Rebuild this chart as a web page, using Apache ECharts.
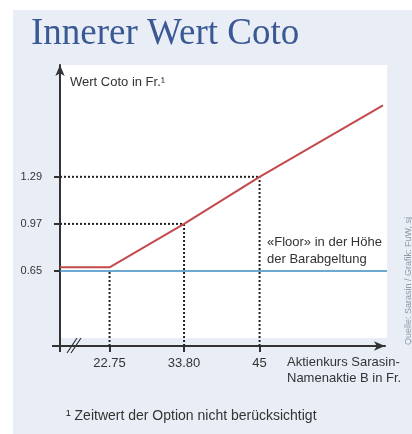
<!DOCTYPE html>
<html>
<head>
<meta charset="utf-8">
<script src="https://cdn.jsdelivr.net/npm/echarts@6/dist/echarts.min.js"></script>
<style>
  html, body { margin: 0; padding: 0; background: #fff; }
  #chart { width: 412px; height: 434px; }
</style>
</head>
<body>
<div id="chart"></div>
<script>
// Werte aus der Grafik
const xTicks = [22.75, 33.8, 45];
const xTickText = ['22.75', '33.80', '45'];
const yTicks = [0.65, 0.97, 1.29];
const innerValue = [[15.4, 0.675], [22.75, 0.675], [33.8, 0.97], [45, 1.29], [63.3, 1.775]];
const floorValue = [[15.4, 0.65], [63.9, 0.65]];

const xMin = 15.4, xMax = 63.6;
const yMin = 0.14, yMax = 2.05;

const font = 'Liberation Sans, Arial, sans-serif';
const dotted = { color: '#222', width: 2, type: [2, 2] };

// gepunktete Hilfslinien zu den markierten Punkten
const guides = [];
xTicks.forEach((x, i) => {
  guides.push([[x, yMin], [x, yTicks[i]]]);
  if (i > 0) guides.push([[xMin, yTicks[i]], [x, yTicks[i]]]);
});

const dom = document.getElementById('chart');
const chart = echarts.init(dom);

const option = {
  backgroundColor: '#fff',
  animation: false,
  title: {
    text: 'Innerer Wert Coto',
    left: 26,
    top: 11,
    textStyle: { fontFamily: 'Liberation Serif, serif', fontSize: 37, fontWeight: 'normal', color: '#3a5894' }
  },
  grid: { left: 60, right: 27, top: 65, bottom: 88 },
  xAxis: {
    type: 'value',
    min: xMin,
    max: xMax,
    splitLine: { show: false },
    axisLine: { onZero: false, symbol: ['none', 'arrow'], symbolSize: [7, 11], lineStyle: { color: '#333', width: 2 } },
    axisTick: { show: true, customValues: xTicks, length: 6, lineStyle: { color: '#333', width: 2 } },
    axisLabel: {
      customValues: xTicks,
      margin: 11,
      color: '#333',
      fontSize: 13,
      fontFamily: font,
      formatter: v => xTickText[xTicks.indexOf(v)]
    }
  },
  yAxis: {
    type: 'value',
    min: yMin,
    max: yMax,
    splitLine: { show: false },
    axisLine: { onZero: false, symbol: ['none', 'arrow'], symbolSize: [7, 11], lineStyle: { color: '#333', width: 2 } },
    axisTick: { show: true, customValues: yTicks, length: 6, lineStyle: { color: '#333', width: 2 } },
    axisLabel: {
      customValues: yTicks,
      margin: 18,
      color: '#333',
      fontSize: 11,
      fontFamily: font,
      formatter: v => v.toFixed(2)
    }
  },
  series: [
    ...guides.map(g => ({
      type: 'line',
      data: g,
      symbol: 'none',
      silent: true,
      lineStyle: dotted,
      z: 1
    })),
    {
      name: 'Floor',
      type: 'line',
      data: floorValue,
      symbol: 'none',
      clip: false,
      lineStyle: { color: '#3a8cc4', width: 1.5 },
      z: 2
    },
    {
      name: 'Innerer Wert',
      type: 'line',
      data: innerValue,
      symbol: 'none',
      lineStyle: { color: '#c4494c', width: 2 },
      z: 3
    }
  ],
  graphic: [
    { type: 'rect', z: -10, shape: { x: 13, y: 10, width: 399, height: 424 }, style: { fill: '#e9eef6' } },
    { type: 'rect', z: -9, shape: { x: 60, y: 65, width: 327, height: 273 }, style: { fill: '#fff' } },
    // Achsen-Überstand
    { type: 'line', shape: { x1: 52, y1: 346, x2: 60, y2: 346 }, style: { stroke: '#333', lineWidth: 2 } },
    { type: 'line', shape: { x1: 60, y1: 346, x2: 60, y2: 352 }, style: { stroke: '#333', lineWidth: 2 } },
    // Achsenbruch //
    { type: 'line', shape: { x1: 67, y1: 353, x2: 77, y2: 338 }, style: { stroke: '#333', lineWidth: 1.2 } },
    { type: 'line', shape: { x1: 71, y1: 353, x2: 81, y2: 338 }, style: { stroke: '#333', lineWidth: 1.2 } },
    {
      type: 'text', left: 70, top: 76,
      style: { text: 'Wert Coto in Fr.¹', font: '13px ' + font, fill: '#333' }
    },
    {
      type: 'text', left: 267, top: 234,
      style: { text: '«Floor» in der Höhe\nder Barabgeltung', font: '13px ' + font, fill: '#333', lineHeight: 17 }
    },
    {
      type: 'text', left: 287, top: 354,
      style: { text: 'Aktienkurs Sarasin-\nNamenaktie B in Fr.', font: '13px ' + font, fill: '#333', lineHeight: 16 }
    },
    {
      type: 'text', left: 66, top: 409,
      style: { text: '¹ Zeitwert der Option nicht berücksichtigt', font: '14px ' + font, fill: '#333' }
    },
    {
      type: 'text', x: 404, y: 345, rotation: Math.PI / 2,
      style: { text: 'Quelle: Sarasin / Grafik: FuW, sj', font: '9px ' + font, fill: '#8f99a6' }
    }
  ]
};
chart.setOption(option);
window.addEventListener('resize', () => chart.resize());
</script>
</body>
</html>
